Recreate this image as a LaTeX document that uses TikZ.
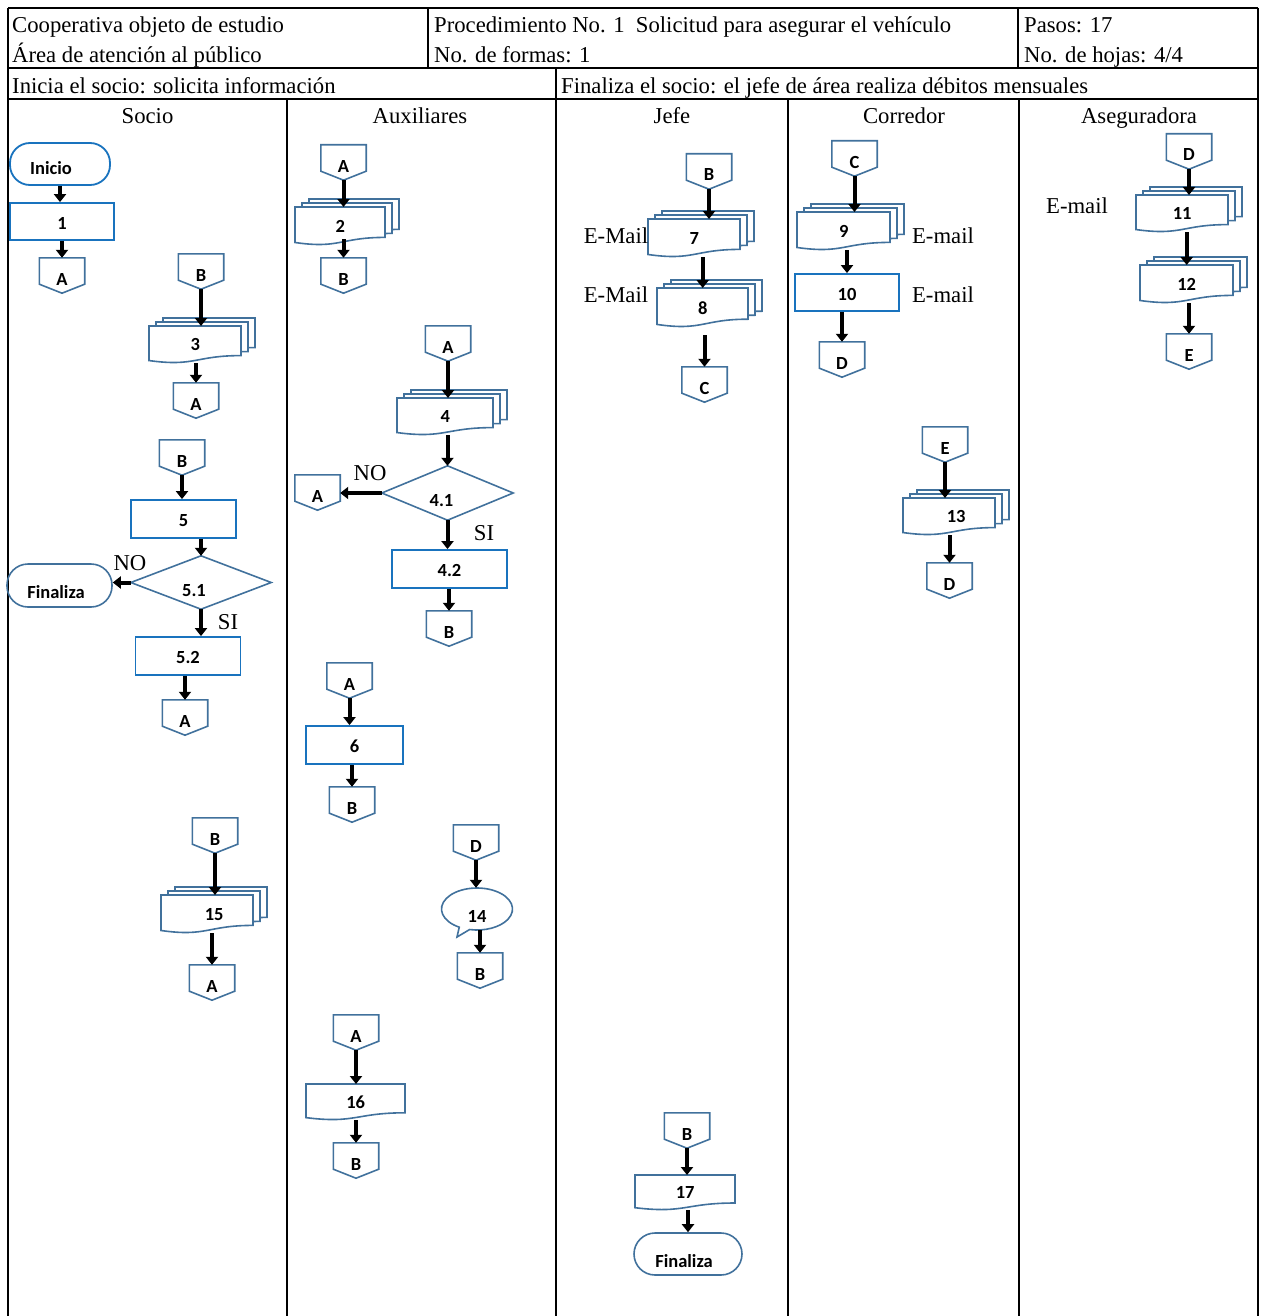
\documentclass[tikz,border=0pt]{standalone}
\usepackage{fontspec}
\setmainfont{Liberation Serif}
\newfontfamily\carlito{Carlito}
\usetikzlibrary{arrows.meta,calc}
\definecolor{procblue}{RGB}{25,115,190}
\definecolor{steel}{RGB}{65,113,156}

\tikzset{
 arr/.style={line width=4pt, -{Triangle[width=12pt,length=8pt]}, black},
 lbl/.style={font=\carlito\bfseries\fontsize{18.5}{20}\selectfont, inner sep=0pt},
 ser/.style={font=\fontsize{22.7}{24}\selectfont, inner sep=0pt},
 procbox/.style={lbl, draw=procblue, line width=1.8pt, text height=15pt, text depth=0pt},
 offbox/.style={lbl, text height=19pt, text depth=0pt, minimum width=45pt, minimum height=35pt},
 offline/.style={draw=steel, line width=1.6pt, line join=miter},
 docline/.style={draw=steel, line width=1.6pt, fill=white},
 gridline/.style={line width=2.5pt, black},
}

% off-page connector: name, centre x, top y, label
\newcommand\offpg[4]{%
  \node[offbox] (#1) at (#2,-#3-17.5) {#4};
  \draw[offline] (#1.north west) -- (#1.north east) -- ([yshift=9pt]#1.south east)
     -- (#1.south) -- ([yshift=9pt]#1.south west) -- cycle;
}
\newcommand\docpath[2]{(0,0) -- (#1,0) -- (#1,-0.8*#2) .. controls (0.5*#1,-0.8*#2) and (0.5*#1,-1.107*#2) .. (0,-0.934*#2) -- cycle}
% multi document: name, left x, top y, width, height, label
\newcommand\mdoc[6]{%
  \draw[docline, shift={(#2+14,-#3+8)}] \docpath{#4}{#5};
  \draw[docline, shift={(#2+7,-#3+4)}] \docpath{#4}{#5};
  \draw[docline, shift={(#2,-#3)}] \docpath{#4}{#5};
  \node[lbl, minimum width=#4, minimum height=#5, anchor=north west] (#1) at (#2,-#3) {#6};
}
\newcommand\sdoc[6]{%
  \draw[docline, shift={(#2,-#3)}] \docpath{#4}{#5};
  \node[lbl, minimum width=#4, minimum height=#5, anchor=north west] (#1) at (#2,-#3) {#6};
}

\begin{document}
\begin{tikzpicture}[x=1pt,y=1pt]
\useasboundingbox (0,0) rectangle (1260,-1316);

% ---------- grid ----------
\draw[gridline] (8,-8) -- (1258,-8);
\draw[gridline] (8,-68) -- (1258,-68);
\draw[gridline] (8,-99) -- (1258,-99);
\draw[gridline] (8,-8) -- (8,-1316);
\draw[gridline] (1258,-8) -- (1258,-1316);
\draw[gridline] (428,-8) -- (428,-68);
\draw[gridline] (1018,-8) -- (1018,-68);
\draw[gridline] (556,-68) -- (556,-1316);
\draw[gridline] (287,-99) -- (287,-1316);
\draw[gridline] (788,-99) -- (788,-1316);
\draw[gridline] (1019,-99) -- (1019,-1316);

% ---------- header texts ----------
\node[ser, anchor=base west] (h1) at (12,-33) {Cooperativa objeto de estudio};
\node[ser, anchor=base west] (h2) at (12,-63) {Área de atención al público};
\node[ser, anchor=base west] (h3) at (434,-33) {Procedimiento No. 1\ \ Solicitud para asegurar el vehículo};
\node[ser, anchor=base west] (h4) at (434,-63) {No. de formas: 1};
\node[ser, anchor=base west] (h5) at (1024,-33) {Pasos: 17};
\node[ser, anchor=base west] (h6) at (1024,-63) {No. de hojas: 4/4};
\node[ser, anchor=base west] (h7) at (12,-94) {Inicia el socio: solicita información};
\node[ser, anchor=base west] (h8) at (561,-94) {Finaliza el socio: el jefe de área realiza débitos mensuales};
\node[ser, anchor=base] (l1) at (147.5,-124) {Socio};
\node[ser, anchor=base] (l2) at (420,-124) {Auxiliares};
\node[ser, anchor=base] (l3) at (672,-124) {Jefe};
\node[ser, anchor=base] (l4) at (904,-124) {Corredor};
\node[ser, anchor=base] (l5) at (1139,-124) {Aseguradora};

% ---------- Socio ----------
\node[lbl, draw=procblue, line width=1.8pt, rounded corners=20pt, minimum width=100, minimum height=42, text height=22pt, text depth=0pt] (ini) at (60,-164) {\hspace*{-18pt}Inicio};
\node[procbox, minimum width=104, minimum height=37] (n1) at (62,-221.5) {1};
\offpg{sA1}{62}{258}{A}
\offpg{sB1}{201}{254}{B}
\mdoc{d3}{149}{326}{92}{37}{3}
\offpg{sA2}{196}{383}{A}
\offpg{sB2}{182}{440}{B}
\node[procbox, minimum width=105, minimum height=38] (n5) at (183.5,-519) {5};
\node[lbl, minimum width=140, minimum height=53, text height=27pt, text depth=0pt] (d51) at (201,-582.5) {\hspace*{-14pt}5.1};
\draw[offline] (d51.north) -- (d51.east) -- (d51.south) -- (d51.west) -- cycle;
\node[lbl, draw=steel, line width=1.6pt, rounded corners=21pt, minimum width=105, minimum height=43, text height=25pt, text depth=0pt] (fin1) at (59.5,-585.5) {\hspace*{-7pt}Finaliza};
\node[procbox, minimum width=105, minimum height=38] (n52) at (188,-656) {5.2};
\offpg{sA3}{185}{700}{A}
\offpg{sB3}{215}{818}{B}
\mdoc{d15}{161}{895}{92}{38}{\hspace*{14pt}15}
\offpg{sA4}{212}{965}{A}
\node[ser] (no1) at (130,-563) {NO};
\node[ser] (si1) at (228,-622) {SI};

\draw[arr] (ini.south) -- (ini.south |- n1.north);
\draw[arr] (n1.south) -- (n1.south |- sA1.north);
\draw[arr] (sB1.south) -- (sB1.south |- d3.north);
\draw[arr] (sA2.north |- d3.south) -- (sA2.north);
\draw[arr] (sB2.south) -- (sB2.south |- n5.north);
\draw[arr] (d51.north |- n5.south) -- (d51.north);
\draw[arr] (d51.west) -- (d51.west -| fin1.east);
\draw[arr] (d51.south) -- (d51.south |- n52.north);
\draw[arr] (sA3.north |- n52.south) -- (sA3.north);
\draw[arr] (sB3.south) -- (sB3.south |- d15.north);
\draw[arr] (sA4.north |- d15.south) -- (sA4.north);

% ---------- Auxiliares ----------
\offpg{aA1}{343.5}{145}{A}
\mdoc{d2}{295}{207}{90}{38}{2}
\offpg{aB1}{343.5}{258}{B}
\offpg{aA2}{448}{326}{A}
\mdoc{d4}{397}{398}{96}{37}{4}
\node[lbl, minimum width=131, minimum height=54, text height=27pt, text depth=0pt] (d41) at (447.5,-493) {\hspace*{-12pt}4.1};
\draw[offline] (d41.north) -- (d41.east) -- (d41.south) -- (d41.west) -- cycle;
\offpg{aA3}{317.5}{475}{A}
\node[procbox, minimum width=115, minimum height=38] (n42) at (449.5,-569) {4.2};
\offpg{aB2}{449}{611}{B}
\offpg{aA4}{349.5}{663}{A}
\node[procbox, minimum width=97, minimum height=38] (n6) at (354.5,-745) {6};
\offpg{aB3}{352}{787}{B}
\offpg{aD}{476}{825}{D}
\draw[docline] (457,-937) -- ({477+35.5*cos(240)},{-909+21*sin(240)}) arc[start angle=240, end angle=-102, x radius=35.5, y radius=21] -- cycle;
\node[lbl, minimum width=71, minimum height=42, text height=26pt, text depth=0pt] (c14) at (477,-909) {14};
\offpg{aB4}{480}{953}{B}
\offpg{aA5}{356}{1015}{A}
\sdoc{d16}{306}{1084}{99}{36}{16}
\offpg{aB5}{356}{1143}{B}
\node[ser] (no2) at (370,-473) {NO};
\node[ser] (si2) at (484,-533) {SI};

\draw[arr] (aA1.south) -- (aA1.south |- d2.north);
\draw[arr, shorten <=-6pt] (aB1.north |- d2.south) -- (aB1.north);
\draw[arr] (aA2.south) -- (aA2.south |- d4.north);
\draw[arr] (d41.north |- d4.south) -- (d41.north);
\draw[arr] (d41.west) -- (d41.west -| aA3.east);
\draw[arr] (d41.south) -- (d41.south |- n42.north);
\draw[arr] (aB2.north |- n42.south) -- (aB2.north);
\draw[arr] (aA4.south) -- (aA4.south |- n6.north);
\draw[arr] (aB3.north |- n6.south) -- (aB3.north);
\draw[arr] (aD.south) -- (aD.south |- c14.north);
\draw[arr] (aB4.north |- c14.south) -- (aB4.north);
\draw[arr] (aA5.south) -- (aA5.south |- d16.north);
\draw[arr] (aB5.north |- d16.south) -- (aB5.north);

% ---------- Jefe ----------
\offpg{jB1}{709}{154}{B}
\mdoc{d7}{648}{219}{92}{38}{7}
\mdoc{d8}{657}{288}{91}{39}{8}
\offpg{jC}{704.5}{367}{C}
\node[ser] (em1) at (616,-236) {E-Mail};
\node[ser] (em2) at (616,-295) {E-Mail};
\offpg{jB2}{687}{1113}{B}
\sdoc{d17}{635}{1175}{100}{35}{17}
\node[lbl, draw=steel, line width=1.6pt, rounded corners=21pt, minimum width=108, minimum height=42, text height=26pt, text depth=0pt] (fin2) at (688,-1254) {\hspace*{-8pt}Finaliza};

\draw[arr] (jB1.south) -- (jB1.south |- d7.north);
\draw[arr] (d8.north |- d7.south) -- (d8.north);
\draw[arr, shorten <=8pt] (jC.north |- d8.south) -- (jC.north);
\draw[arr] (jB2.south) -- (jB2.south |- d17.north);
\draw[arr] (fin2.north |- d17.south) -- (fin2.north);

% ---------- Corredor ----------
\offpg{cC}{854.5}{141}{C}
\mdoc{d9}{797}{212}{93}{38}{9}
\node[procbox, minimum width=104, minimum height=37] (n10) at (847,-292.5) {10};
\offpg{cD1}{842}{342}{D}
\node[ser] (em3) at (943,-236) {E-mail};
\node[ser] (em4) at (943,-295) {E-mail};
\offpg{cE}{945}{427}{E}
\mdoc{d13}{903}{498}{92}{37}{\hspace*{14pt}13}
\offpg{cD2}{949.5}{563}{D}

\draw[arr] (cC.south) -- (cC.south |- d9.north);
\draw[arr] (n10.north |- d9.south) -- (n10.north);
\draw[arr] (cD1.north |- n10.south) -- (cD1.north);
\draw[arr] (cE.south) -- (cE.south |- d13.north);
\draw[arr] (cD2.north |- d13.south) -- (cD2.north);

% ---------- Aseguradora ----------
\offpg{gD}{1189}{134}{D}
\mdoc{d11}{1136}{195}{92}{37}{11}
\mdoc{d12}{1140}{265}{93}{38}{12}
\offpg{gE}{1189}{334}{E}
\node[ser] (em5) at (1077,-206) {E-mail};

\draw[arr] (gD.south) -- (gD.south |- d11.north);
\draw[arr] (d12.north |- d11.south) -- (d12.north);
\draw[arr] (gE.north |- d12.south) -- (gE.north);
\end{tikzpicture}
\end{document}
